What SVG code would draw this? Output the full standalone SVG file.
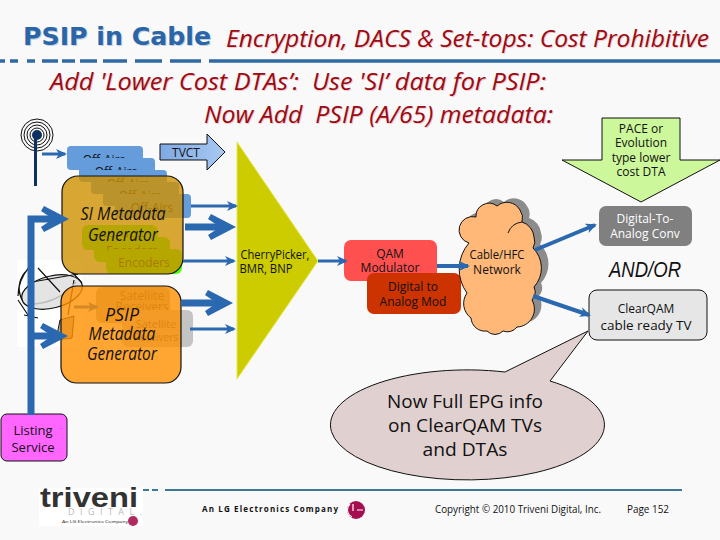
<svg xmlns="http://www.w3.org/2000/svg" width="720" height="540" viewBox="0 0 720 540">
<style>
text{font-family:"Open Sans","Noto Sans",sans-serif;fill:#111;text-anchor:middle}
.red{font-family:"Open Sans","Noto Sans",sans-serif;font-style:italic;font-size:23px;fill:#9c0a14;text-anchor:start}
.redS{font-family:"Open Sans","Noto Sans",sans-serif;font-style:italic;font-size:23px;fill:#f0c8c8;text-anchor:start}
.ttl{font-family:"DejaVu Sans",sans-serif;font-size:24px;font-weight:700;text-anchor:start}
.lab{font-size:12px}
.big{font-family:"Open Sans","Noto Sans",sans-serif;font-style:italic;font-size:18px}
.air{fill:#659cdc}
.enc{fill:#4bff00}
.thin{stroke:#2a68b0;stroke-width:3;fill:none;marker-end:url(#head)}
.thick{stroke:#2a68b0;stroke-width:7;fill:none;marker-end:url(#chev)}
</style>
<defs>
<marker id="head" markerUnits="userSpaceOnUse" markerWidth="12" markerHeight="12" refX="9" refY="6" orient="auto"><path d="M0,1 L11,6 L0,11 L3,6 Z" fill="#2a68b0"/></marker>
<marker id="chev" markerUnits="userSpaceOnUse" markerWidth="30" markerHeight="30" refX="20" refY="15" orient="auto"><path d="M3,2 L28,15 L3,28 L0,23 L12,15 L0,7 Z" fill="#2a68b0"/></marker>
<linearGradient id="tv" x1="0" y1="0" x2="1" y2="0"><stop offset="0" stop-color="#7fa9e4"/><stop offset="1" stop-color="#a8c8f0"/></linearGradient>
<path id="cloud" d="M476,217 A13,13 0 0 1 497,206 A15,15 0 0 1 520,210 A14,14 0 0 1 522,222 A17,17 0 0 1 534,237 A13,13 0 0 1 533,248 A28,28 0 0 1 534,287 A12,12 0 0 1 532,300 A18,18 0 0 1 517,327 A12,12 0 0 1 503,331 A11,11 0 0 1 487,331 A14,14 0 0 1 471,318 A18,18 0 0 1 467,293 A40,40 0 0 1 469,243 A13,13 0 0 1 476,217 Z"/>
</defs>
<rect width="720" height="540" fill="#f9f9f9"/>

<g id="title">
<path d="M0,61 H5 M10,61 H18 M27,61 H35 M42,61 H58 M62,61 H75 M80,61 H97 M103,61 H127 M135,61 H162 M170,61 H201 M209,61 H720" stroke="#2f6aa3" stroke-width="3.500" fill="none"/>
<text class="ttl" x="24" y="46" textLength="188" lengthAdjust="spacingAndGlyphs" style="fill:#c4cede">PSIP in Cable</text>
<text class="ttl" x="23" y="45" textLength="188" lengthAdjust="spacingAndGlyphs" style="fill:#2a65a8">PSIP in Cable</text>
<text class="redS" x="227" y="48" textLength="483" lengthAdjust="spacingAndGlyphs">Encryption, DACS &amp; Set-tops: Cost Prohibitive</text>
<text class="red" x="226" y="47" textLength="483" lengthAdjust="spacingAndGlyphs">Encryption, DACS &amp; Set-tops: Cost Prohibitive</text>
<text class="redS" x="51" y="91" textLength="496" lengthAdjust="spacingAndGlyphs" xml:space="preserve">Add 'Lower Cost DTAs’:  Use 'SI’ data for PSIP:</text>
<text class="red" x="50" y="90" textLength="496" lengthAdjust="spacingAndGlyphs" xml:space="preserve">Add 'Lower Cost DTAs’:  Use 'SI’ data for PSIP:</text>
<text class="redS" x="205" y="124" textLength="349" lengthAdjust="spacingAndGlyphs" xml:space="preserve">Now Add  PSIP (A/65) metadata:</text>
<text class="red" x="204" y="123" textLength="349" lengthAdjust="spacingAndGlyphs" xml:space="preserve">Now Add  PSIP (A/65) metadata:</text>
</g>

<g id="antenna" fill="none" stroke="#111">
<circle cx="37" cy="135" r="16"/><circle cx="37" cy="135" r="13"/><circle cx="37" cy="135" r="10"/><circle cx="37" cy="135" r="7"/>
<line x1="35.500" y1="135" x2="35.500" y2="186" stroke="#10305f" stroke-width="3"/>
<circle cx="37" cy="135" r="5" fill="#10305f" stroke="none"/>
</g>

<g id="dish">
<rect x="17" y="260" width="65" height="87" fill="#fff"/>
<ellipse cx="52" cy="292" rx="31" ry="16" transform="rotate(-14 52 292)" fill="#e4e4e4" stroke="#111" stroke-width="1.200"/>
<path d="M25,272 Q15,285 22,300 M30,266 Q18,280 18,296 M38,268 L60,292 M32,282 L78,274 M72,272 L82,283 M74,280 L68,315 M18,300 L30,318 M24,315 L38,318" fill="none" stroke="#111" stroke-width="1.200"/>
<path d="M34,304 Q60,302 76,282" fill="none" stroke="#bdbdbd" stroke-width="1.500"/>
<path d="M60,320 L74,316 L72,338 L56,340 Z" fill="#b0b0b0" stroke="#111"/>
</g>

<g id="off-airs">
<rect class="air" x="67" y="146" width="76" height="24" rx="4"/><text class="lab" x="104" y="164">Off-Airs</text>
<rect class="air" x="79" y="158" width="76" height="24" rx="4"/><text class="lab" x="116" y="176">Off-Airs</text>
<rect class="air" x="91" y="170" width="76" height="24" rx="4"/><text class="lab" x="128" y="188">Off-Airs</text>
<rect class="air" x="103" y="182" width="76" height="24" rx="4"/><text class="lab" x="140" y="200">Off-Airs</text>
<rect class="air" x="115" y="194" width="76" height="24" rx="4"/><text class="lab" x="152" y="212">Off-Airs</text>
</g>
<g id="encoders">
<rect class="enc" x="82" y="225" width="76" height="25" rx="6"/><text class="lab" x="120" y="243">Encoders</text>
<rect class="enc" x="94" y="237" width="76" height="25" rx="6"/><text class="lab" x="132" y="255">Encoders</text>
<rect class="enc" x="106" y="249" width="76" height="25" rx="6"/><text class="lab" x="144" y="267">Encoders</text>
</g>
<g id="si-generator">
<rect x="62" y="176" width="121" height="98" rx="16" fill="#cf9100" fill-opacity=".8" stroke="#111" stroke-width="1.200"/>
<text class="big" x="123" y="220" textLength="85" lengthAdjust="spacingAndGlyphs">SI Metadata</text>
<text class="big" x="123" y="241" textLength="70" lengthAdjust="spacingAndGlyphs">Generator</text>
</g>

<g id="satellite">
<rect x="96" y="287" width="74" height="36" rx="6" fill="#b4b4a0"/>
<text class="lab" x="142" y="300" style="fill:#555">Satellite</text><text class="lab" x="142" y="311" style="fill:#555">Receivers</text>
<rect x="122" y="310" width="71" height="37" rx="6" fill="#c4c4c4"/>
<text x="156" y="328" font-size="11" style="fill:#555">Satellite</text><text x="156" y="341" font-size="10" style="fill:#555">Receivers</text>
</g>
<line class="thin" x1="74" y1="307" x2="97" y2="307"/>
<g id="psip-generator">
<rect x="61" y="286" width="120" height="97" rx="16" fill="#ff9000" fill-opacity=".8" stroke="#111" stroke-width="1.200"/>
<text class="big" x="122" y="321" textLength="34" lengthAdjust="spacingAndGlyphs">PSIP</text>
<text class="big" x="122" y="340" textLength="67" lengthAdjust="spacingAndGlyphs">Metadata</text>
<text class="big" x="122" y="360" textLength="70" lengthAdjust="spacingAndGlyphs">Generator</text>
</g>

<g id="tvct">
<path d="M160,144 H207 V134 L225,152 L207,170 V160 H160 Z" fill="url(#tv)" stroke="#111"/>
<text class="lab" x="186" y="157">TVCT</text>
</g>
<g id="mux">
<path d="M237,142 L318,261 L237,379 Z" fill="#cccc00" stroke="#e6e650"/>
<text class="lab" x="275" y="259" textLength="69" lengthAdjust="spacingAndGlyphs">CherryPicker,</text>
<text class="lab" x="266" y="273" textLength="53" lengthAdjust="spacingAndGlyphs">BMR, BNP</text>
</g>
<g id="qam">
<rect x="344" y="240" width="93" height="41" rx="7" fill="#ff5050"/>
<text class="lab" x="390" y="258">QAM</text><text class="lab" x="390" y="272">Modulator</text>
</g>
<g id="d2a">
<rect x="367" y="273" width="94" height="41" rx="7" fill="#cc3300"/>
<text class="lab" x="413" y="291">Digital to</text><text class="lab" x="413" y="306">Analog Mod</text>
</g>
<g id="network">
<use href="#cloud" fill="#8c8c8c" transform="translate(7,-4)"/>
<use href="#cloud" fill="#ffb877" stroke="#111"/>
<path d="M508,233 A17,17 0 0 1 522,222" fill="none" stroke="#111"/>
<text class="lab" x="497" y="259" textLength="55" lengthAdjust="spacingAndGlyphs">Cable/HFC</text>
<text class="lab" x="497" y="274">Network</text>
</g>
<g id="pace">
<path d="M602,118 H680 V160 H720 L641,202 L562,160 H602 Z" fill="#ccf79a" stroke="#111"/>
<text class="lab" x="641" y="133">PACE or</text><text class="lab" x="641" y="147">Evolution</text><text class="lab" x="641" y="162">type lower</text><text class="lab" x="641" y="176">cost DTA</text>
</g>
<g id="dac">
<rect x="599" y="206" width="93" height="40" rx="7" fill="#808080"/>
<text class="lab" x="645" y="223" style="fill:#fff">Digital-To-</text><text class="lab" x="645" y="238" style="fill:#fff">Analog Conv</text>
</g>
<text id="andor" x="645" y="277" font-size="22" font-style="italic" textLength="72" lengthAdjust="spacingAndGlyphs" style="font-family:'Liberation Sans',sans-serif">AND/OR</text>
<g id="clearqam">
<rect x="589" y="290" width="118" height="50" rx="8" fill="#e6e6e6" stroke="#111"/>
<text class="lab" x="646" y="313">ClearQAM</text><text class="lab" x="646" y="330" textLength="91" lengthAdjust="spacingAndGlyphs">cable ready TV</text>
</g>
<g id="callout">
<path d="M550,381 A137,55 0 1 1 505,372 L588,331 Z" fill="#e0d0d0" stroke="#111"/>
<text x="465" y="408" font-size="19" textLength="156" lengthAdjust="spacingAndGlyphs">Now Full EPG info</text>
<text x="465" y="432" font-size="19" textLength="154" lengthAdjust="spacingAndGlyphs">on ClearQAM TVs</text>
<text x="465" y="456" font-size="19" textLength="85" lengthAdjust="spacingAndGlyphs">and DTAs</text>
</g>
<g id="listing">
<rect x="1" y="414" width="66" height="47" rx="6" fill="#ff66ff" stroke="#111"/>
<text x="33" y="435" font-size="13">Listing</text><text x="33" y="452" font-size="13">Service</text>
</g>

<g id="footer">
<path d="M165,490 H682" stroke="#3d7896" stroke-width="2"/>
<path d="M143,490 H160" stroke="#3d7896" stroke-width="2" stroke-dasharray="6 3"/>
<rect x="39" y="488" width="104" height="38" fill="#fff"/>
<text x="89" y="507" font-size="28" font-weight="700" textLength="98" lengthAdjust="spacingAndGlyphs" style="fill:#333;font-family:'Liberation Sans',sans-serif">triveni</text>
<text x="105" y="515" font-size="9" textLength="74" style="fill:#bbb">DIGITAL.</text>
<text x="95" y="523" font-size="4" textLength="66" lengthAdjust="spacingAndGlyphs">An LG Electronics Company</text>
<circle cx="133" cy="521" r="5" fill="#b02a60"/>
<text x="270" y="512" font-size="8" font-weight="700" textLength="136">An LG Electronics Company</text>
<circle cx="356" cy="510" r="9" fill="#a50f50"/>
<path d="M353,504 V511 M357,510 H363 M350,504 A8,8 0 0 0 352,517" stroke="#fff" stroke-width="1.200" fill="none"/>
<text x="518" y="513" font-size="10" textLength="166" lengthAdjust="spacingAndGlyphs">Copyright © 2010 Triveni Digital, Inc.</text>
<text x="648" y="513" font-size="10" textLength="42" lengthAdjust="spacingAndGlyphs">Page 152</text>
</g>

<g id="connectors">
<line class="thin" x1="42" y1="154" x2="65" y2="154"/>
<path d="M31,415 V219 H61" class="thick"/>
<path d="M31,336 H60" class="thick"/>
<line class="thick" x1="185" y1="227" x2="228" y2="227"/>
<line class="thick" x1="181" y1="303" x2="225" y2="303"/>
<line class="thin" x1="191" y1="206" x2="236" y2="206"/>
<line class="thin" x1="183" y1="261" x2="234" y2="261"/>
<line class="thin" x1="190" y1="329" x2="234" y2="329"/>
<line class="thin" x1="318" y1="261" x2="346" y2="261"/>
<line x1="437" y1="266" x2="468" y2="266" class="thin" style="stroke-width:4"/>
<line class="thin" x1="535" y1="250" x2="595" y2="225" style="stroke-width:4"/>
<line class="thin" x1="533" y1="296" x2="589" y2="315" style="stroke-width:4"/>
</g>
</svg>
